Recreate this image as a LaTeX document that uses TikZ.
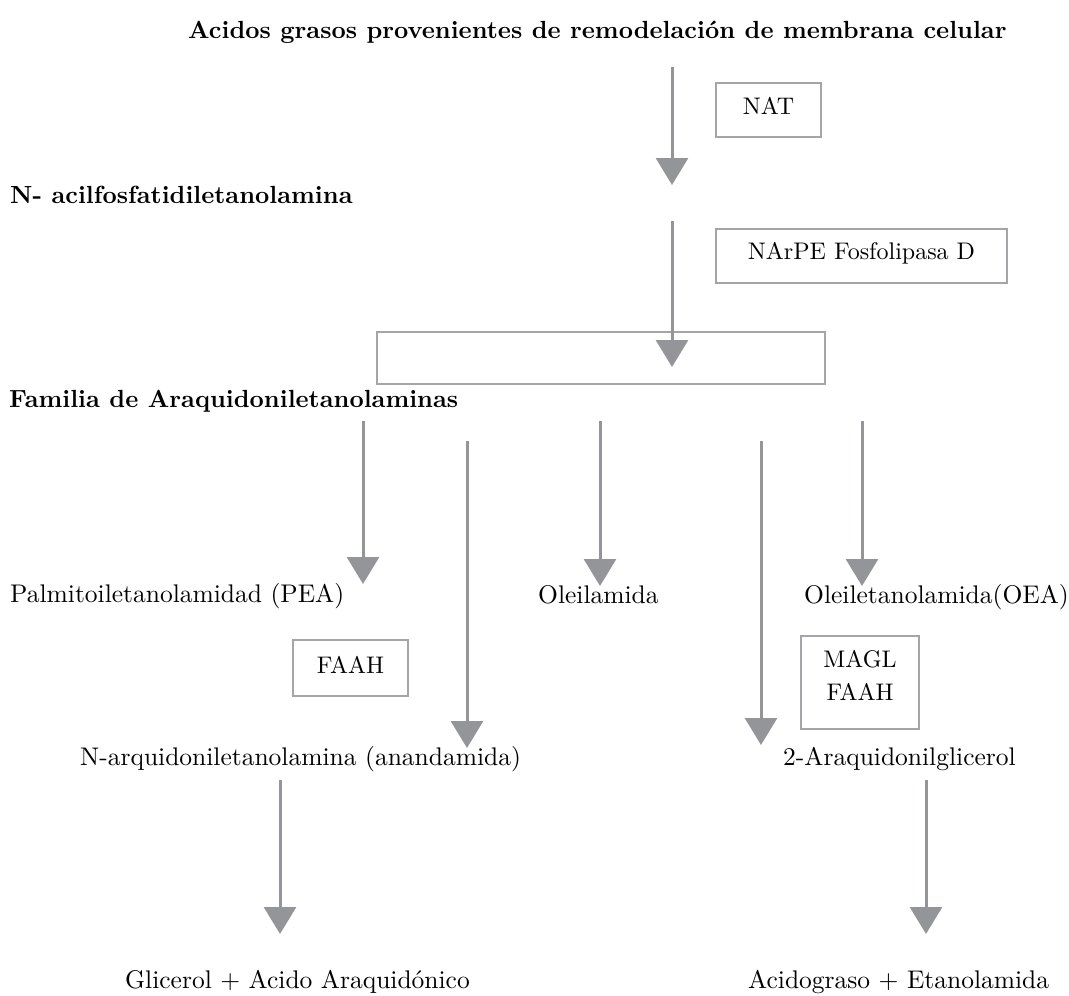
\documentclass[tikz,border=0pt]{standalone}
\usepackage{fontspec}
\setmainfont{lmroman10-regular.otf}[BoldFont=lmroman10-bold.otf]
\usetikzlibrary{arrows.meta}
\definecolor{arrowgray}{RGB}{147,149,152}
\definecolor{boxgray}{RGB}{163,165,168}
\begin{document}
\begin{tikzpicture}[x=1pt,y=-1pt,
  lbl/.style={inner sep=0pt, anchor=base west, font=\fontsize{25.5}{28}\selectfont},
  hdr/.style={inner sep=0pt, anchor=base west, font=\fontsize{24.8}{28}\selectfont\bfseries},
  enzbox/.style={draw=boxgray, line width=2.5pt, inner sep=0pt},
  enztxt/.style={inner sep=0pt, align=center, font=\fontsize{24}{33}\selectfont},
  flow/.style={draw=arrowgray, line width=3pt, -{Triangle[width=32pt,length=27pt]}},
]
\useasboundingbox (0,0) rectangle (1069,996);

% headings
\node[hdr] (title) at (188,38) {Acidos grasos provenientes de remodelación de membrana celular};
\node[hdr] (nape) at (10,203) {N- acilfosfatidiletanolamina};
\node[hdr] (fam) at (9,407) {Familia de Araquidoniletanolaminas};

% enzyme boxes
\node[enzbox, minimum width=105pt, minimum height=54pt] (natbox) at (768.5,110) {};
\node[enztxt] (nat) at (768.5,106) {NAT};
\node[enzbox, minimum width=291pt, minimum height=54pt] (pldbox) at (861.5,256) {};
\node[enztxt] (pld) at (861.5,253) {NArPE Fosfolipasa D};
\node[enzbox, minimum width=448pt, minimum height=52pt] (empty) at (601,358) {};
\node[enzbox, minimum width=115pt, minimum height=56pt] (faahbox) at (350.5,668) {};
\node[enztxt] (faah) at (350.5,665) {FAAH};
\node[enzbox, minimum width=118pt, minimum height=93pt] (maglbox) at (860,682.5) {};
\node[enztxt] (magl) at (860,675) {MAGL\\FAAH};

% products
\node[lbl] (pea) at (10,602) {Palmitoiletanolamidad (PEA)};
\node[lbl] (ole) at (538,603) {Oleilamida};
\node[lbl] (oea) at (804,603) {Oleiletanolamida(OEA)};
\node[lbl] (aea) at (80,765) {N-arquidoniletanolamina (anandamida)};
\node[lbl] (ag) at (783,765) {2-Araquidonilglicerol};
\node[lbl] (gly) at (125,988) {Glicerol + Acido Araquidónico};
\node[lbl] (eta) at (748,988) {Acidograso + Etanolamida};

% arrow end points
\coordinate (a1s) at (672,67);  \coordinate (a1e) at (672,185);
\coordinate (a2s) at (672,221); \coordinate (a2e) at (672,367);
\coordinate (b1s) at (363,421); \coordinate (b1e) at (363,584);
\coordinate (b2s) at (467,441); \coordinate (b2e) at (467,748);
\coordinate (b3s) at (600,421); \coordinate (b3e) at (600,586);
\coordinate (b4s) at (761,441); \coordinate (b4e) at (761,745);
\coordinate (b5s) at (862,421); \coordinate (b5e) at (862,586);
\coordinate (c1s) at (280,780); \coordinate (c1e) at (280,934);
\coordinate (c2s) at (926,780); \coordinate (c2e) at (926,934);

\draw[flow] (a1s) -- (a1e);
\draw[flow] (a2s) -- (a2e);
\draw[flow] (b1s) -- (b1e);
\draw[flow] (b2s) -- (b2e);
\draw[flow] (b3s) -- (b3e);
\draw[flow] (b4s) -- (b4e);
\draw[flow] (b5s) -- (b5e);
\draw[flow] (c1s) -- (c1e);
\draw[flow] (c2s) -- (c2e);
\end{tikzpicture}
\end{document}
